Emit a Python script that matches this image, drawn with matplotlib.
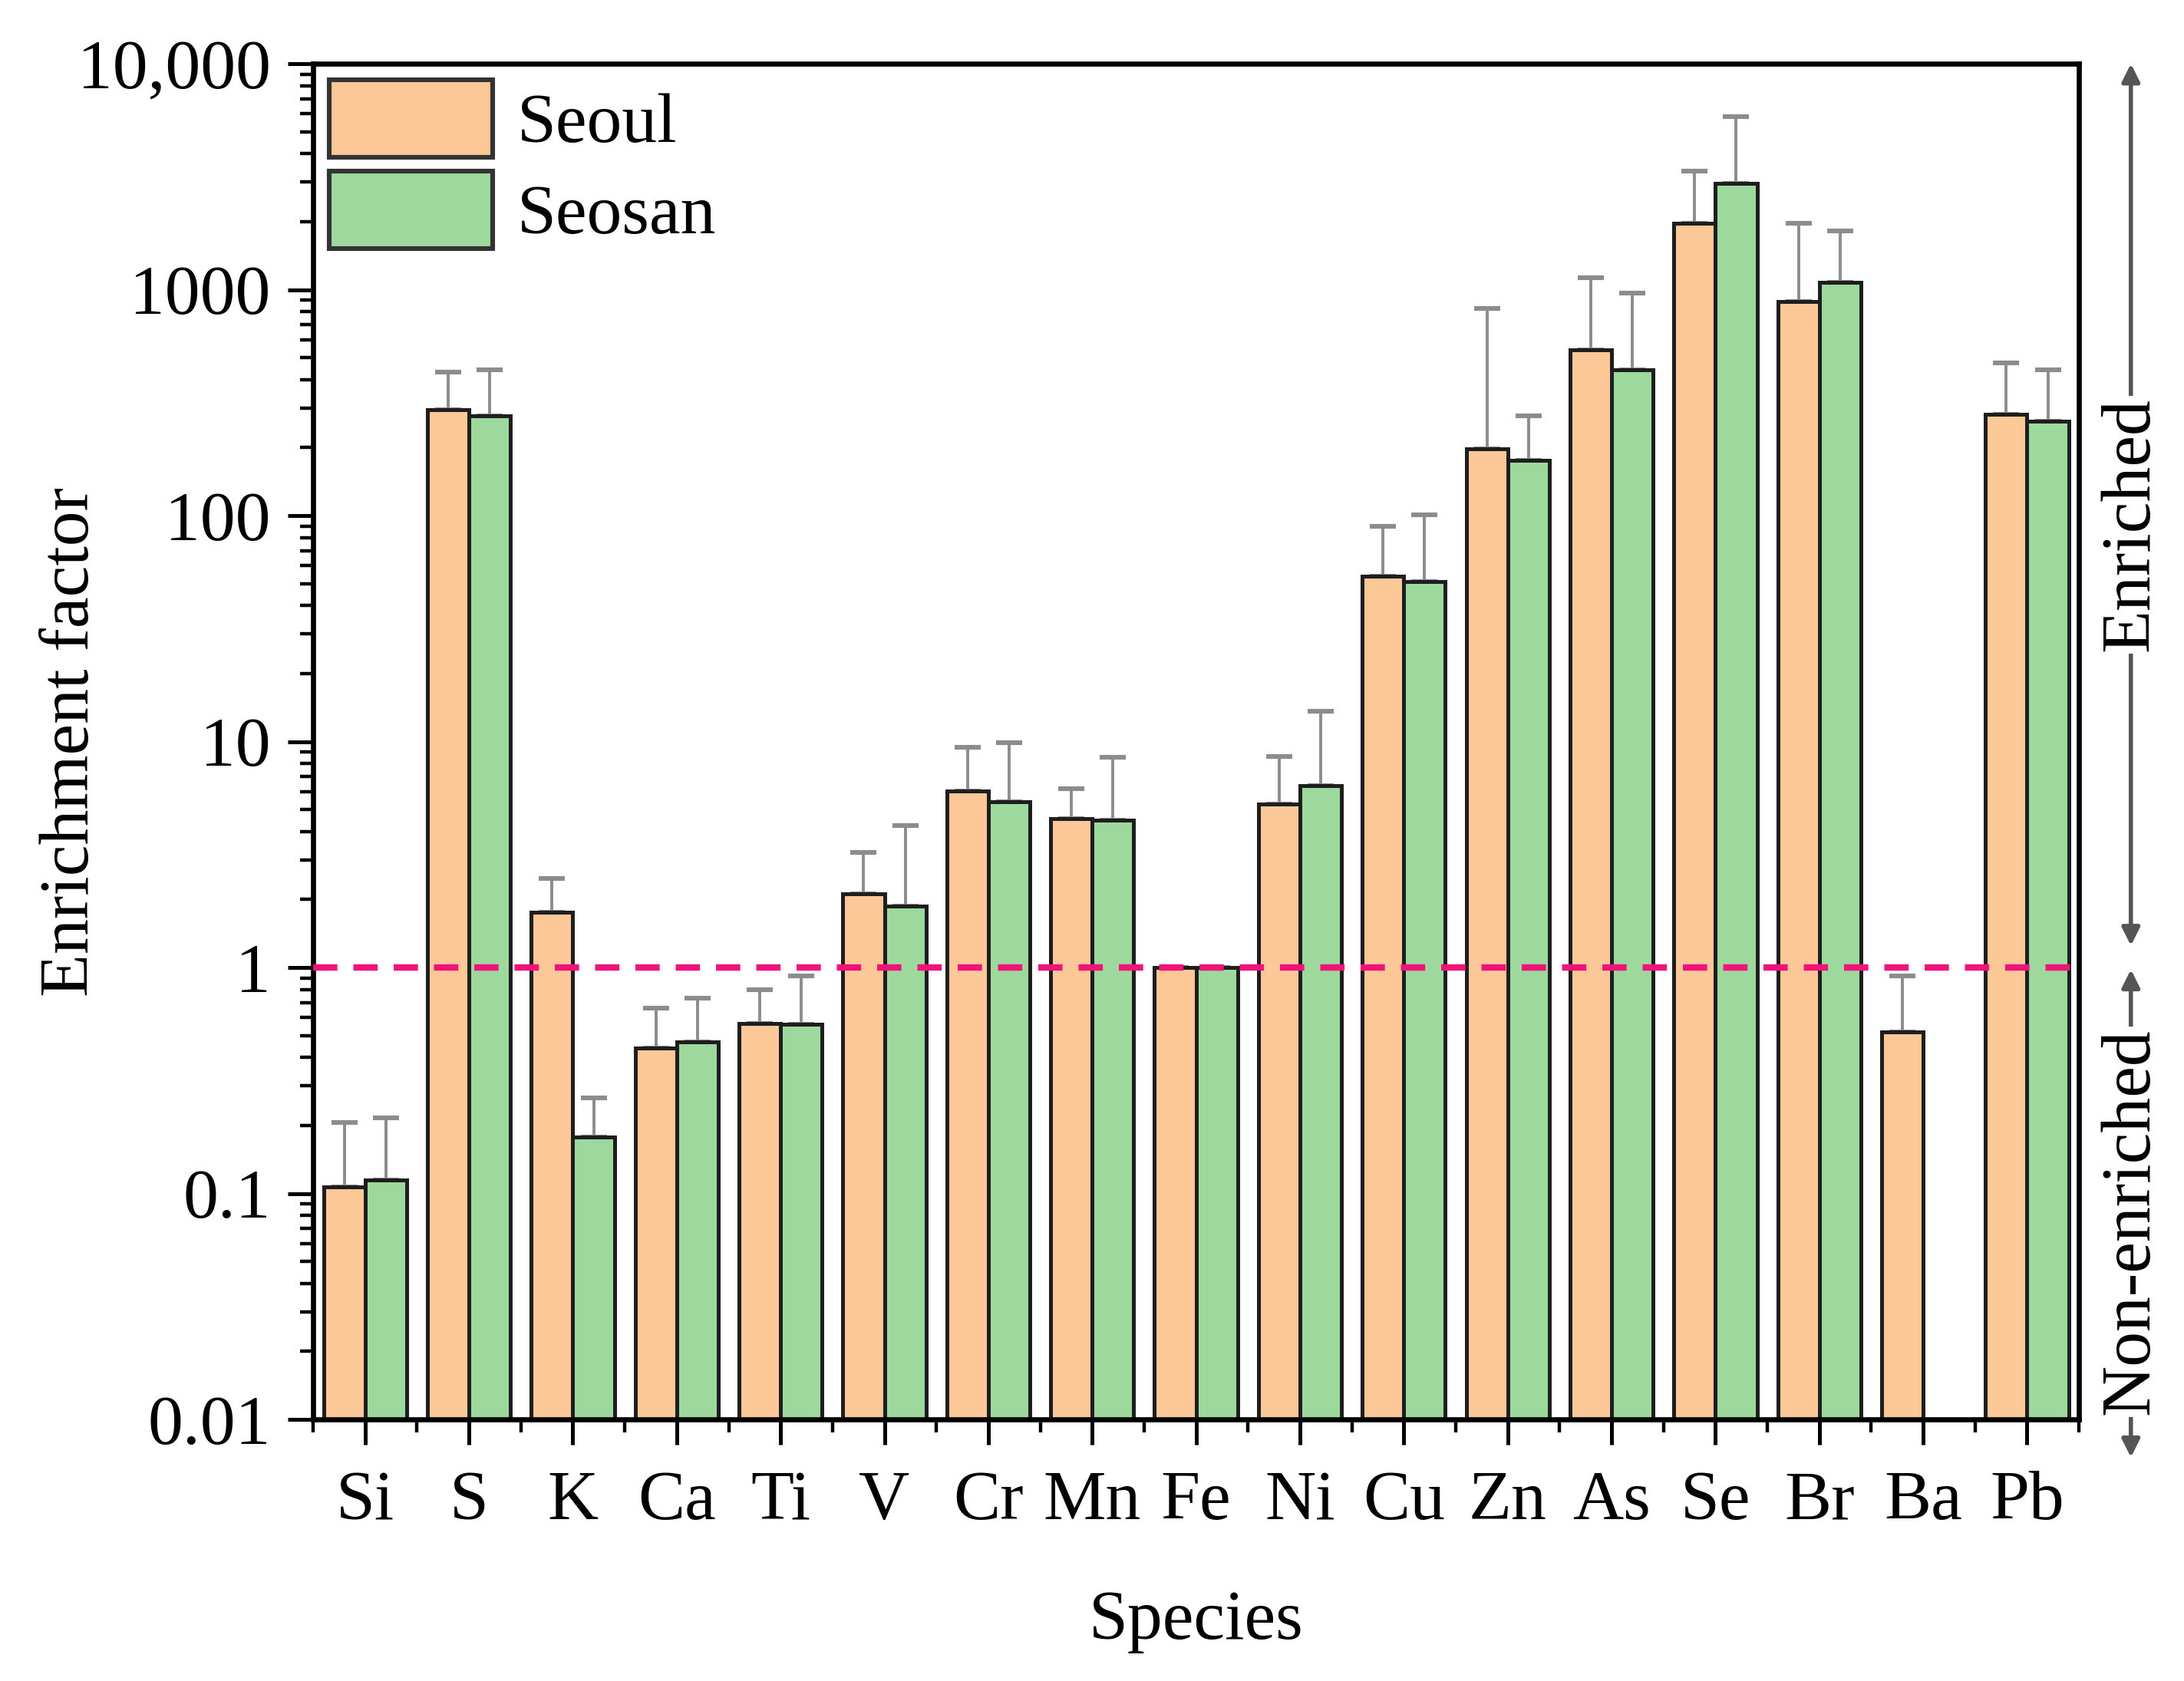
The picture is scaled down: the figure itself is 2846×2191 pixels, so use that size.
import numpy as np
import matplotlib
matplotlib.use("Agg")
import matplotlib.pyplot as plt
from matplotlib.ticker import LogLocator, NullFormatter

plt.rcParams['font.family'] = ['Liberation Serif', 'DejaVu Serif']

species = ["Si", "S", "K", "Ca", "Ti", "V", "Cr", "Mn", "Fe",
           "Ni", "Cu", "Zn", "As", "Se", "Br", "Ba", "Pb"]
seoul = [0.107, 294, 1.76, 0.44, 0.567, 2.12, 6.04, 4.55, 1.0,
         5.3, 54, 197, 540, 1960, 887, 0.52, 281]
seoul_top = [0.207, 430, 2.48, 0.66, 0.80, 3.24, 9.4, 6.2, np.nan,
             8.6, 90, 826, 1128, 3360, 1960, 0.92, 475]
seosan = [0.115, 277, 0.178, 0.47, 0.56, 1.87, 5.4, 4.5, 1.0,
          6.4, 51, 176, 443, 2956, 1081, np.nan, 262]
seosan_top = [0.216, 443, 0.264, 0.73, 0.92, 4.25, 9.9, 8.5, np.nan,
              13.6, 101, 277, 966, 5840, 1820, np.nan, 443]
ytick_vals = [0.01, 0.1, 1, 10, 100, 1000, 10000]
ytick_labels = ["0.01", "0.1", "1", "10", "100", "1000", "10,000"]

orange = "#FDC897"
green = "#9DD99C"
fs = 33

fig = plt.figure(figsize=(14.23, 10.955), dpi=200)
ax = fig.add_axes([0.1434, 0.1556, 0.8085, 0.8065])

x = np.arange(len(species))
w = 0.4
s1 = np.array(seoul, dtype=float)
s2 = np.array(seosan, dtype=float)
e1 = np.array(seoul_top, dtype=float) - s1
e2 = np.array(seosan_top, dtype=float) - s2

ax.bar(x - w / 2, s1, w, color=orange, edgecolor="#1e1e1e", linewidth=1.8, label="Seoul", zorder=2)
ax.bar(x + w / 2, s2, w, color=green, edgecolor="#1e1e1e", linewidth=1.8, label="Seosan", zorder=2)
ax.errorbar(x - w / 2, s1, yerr=[np.zeros_like(e1), e1], fmt="none", ecolor="#8c8c8c",
            elinewidth=1.4, capsize=6, capthick=2.2, zorder=1)
ax.errorbar(x + w / 2, s2, yerr=[np.zeros_like(e2), e2], fmt="none", ecolor="#8c8c8c",
            elinewidth=1.4, capsize=6, capthick=2.2, zorder=1)

ax.axhline(1, color="#F0147A", lw=3, ls=(0, (3.8, 2.5)), zorder=3)

ax.set_yscale("log")
ax.set_ylim(0.01, 10000)
ax.set_xlim(-0.5, 16.5)
ax.set_yticks(ytick_vals, labels=ytick_labels)
ax.yaxis.set_minor_locator(LogLocator(base=10, subs=np.arange(2, 10), numticks=20))
ax.yaxis.set_minor_formatter(NullFormatter())
ax.set_xticks(x, labels=species)
ax.set_xticks(np.arange(-0.5, 17, 1), minor=True)

ax.tick_params(which="major", direction="out", length=12, width=1.8, labelsize=fs, pad=8)
ax.tick_params(axis="x", which="major", pad=12)
ax.tick_params(which="minor", direction="out", length=6, width=1.6)
for sp in ax.spines.values():
    sp.set_linewidth(2.4)

ax.set_ylabel("Enrichment factor", fontsize=fs)
ax.yaxis.set_label_coords(-0.119, 0.5)
ax.set_xlabel("Species", fontsize=fs)
ax.xaxis.set_label_coords(0.5, -0.126)

leg = ax.legend(loc="upper left", frameon=False, fontsize=fs, handlelength=2.32, handleheight=1.32,
                labelspacing=0.19, handletextpad=0.35, borderpad=0, borderaxespad=0.23)
for p in leg.get_patches():
    p.set_edgecolor("#333333")
    p.set_linewidth(2.2)

# enriched / non-enriched markers on the right
arrow = dict(arrowstyle="<|-|>,head_length=0.7,head_width=0.35", color="#555555", lw=2,
             shrinkA=0, shrinkB=0)
ax.annotate("", xy=(17.0, 10000), xytext=(17.0, 1.25), arrowprops=arrow, annotation_clip=False)
ax.annotate("", xy=(17.0, 0.0068), xytext=(17.0, 0.98), arrowprops=arrow, annotation_clip=False)
ax.text(17.0, 91, "Enriched", rotation=90, ha="center", va="center", fontsize=fs,
        bbox=dict(facecolor="white", edgecolor="none", pad=1))
ax.text(17.0, 0.075, "Non-enriched", rotation=90, ha="center", va="center", fontsize=fs,
        bbox=dict(facecolor="white", edgecolor="none", pad=1))

plt.savefig("out.png", dpi=200)
